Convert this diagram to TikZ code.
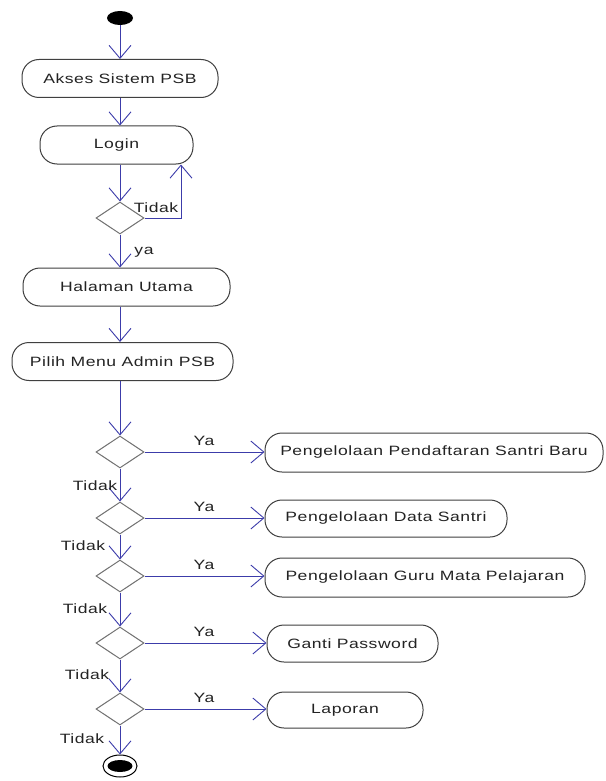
\documentclass[tikz,border=0pt]{standalone}
\usepackage{fontspec}
\setmainfont{Liberation Sans}[FakeStretch=1.3,LetterSpace=4]
\usetikzlibrary{arrows.meta,shapes.geometric,calc}
\definecolor{linecol}{RGB}{60,60,170}
\definecolor{txtcol}{RGB}{35,35,35}
\begin{document}
\begin{tikzpicture}[x=1pt,y=-1pt,
  flow/.style={draw=linecol, line width=0.9pt, -{Straight Barb[length=13pt,width=22pt,line width=0.9pt]}},
  act/.style={draw=black!75, line width=1pt, rounded corners=17pt, rectangle, minimum height=38pt, inner sep=0pt, font=\fontsize{13.5}{16}\selectfont, text=txtcol},
  dec/.style={draw=black!55, line width=1pt, diamond, minimum width=48pt, minimum height=32pt, inner sep=0pt},
  lab/.style={inner sep=0pt, font=\fontsize{13.5}{16}\selectfont, text=txtcol}]
\useasboundingbox (0,0) rectangle (605,781);
\fill[white] (0,0) rectangle (605,781);
% start / end
\node[ellipse, fill=black, minimum width=26pt, minimum height=14pt, inner sep=0pt] (start) at (120,18) {};
\node[ellipse, draw=black, line width=1pt, minimum width=34pt, minimum height=22pt, inner sep=0pt] (end) at (120,766) {};
\node[ellipse, fill=black, minimum width=25pt, minimum height=12pt, inner sep=0pt] (endin) at (120,766) {};
% main column
\node[act, minimum width=196pt] (akses) at (120,78.5) {Akses Sistem PSB};
\node[act, minimum width=153pt] (login) at (116.5,145) {Login};
\node[dec] (d0) at (120,218) {};
\node[act, minimum width=207pt] (hal) at (126.5,287) {Halaman Utama};
\node[act, minimum width=221pt] (pilih) at (122.5,361.5) {Pilih Menu Admin PSB};
% decisions
\node[dec] (d1) at (120,452) {};
\node[dec] (d2) at (120,518) {};
\node[dec] (d3) at (120,576) {};
\node[dec] (d4) at (120,643) {};
\node[dec] (d5) at (120,709) {};
% right boxes
\node[act, minimum width=338pt, minimum height=39pt] (b1) at (434,452.5) {Pengelolaan Pendaftaran Santri Baru};
\node[act, minimum width=242pt, minimum height=37pt] (b2) at (386,518.5) {Pengelolaan Data Santri};
\node[act, minimum width=320pt, minimum height=39pt] (b3) at (425,577.5) {Pengelolaan Guru Mata Pelajaran};
\node[act, minimum width=171pt, minimum height=37pt] (b4) at (352.5,643.5) {Ganti Password};
\node[act, minimum width=156pt, minimum height=36pt] (b5) at (345,710) {Laporan};
% connectors
\draw[flow] (start) -- (akses.north -| start);
\draw[flow] (akses.south -| start) -- (login.north -| start);
\draw[flow] (login.south -| start) -- (d0.north);
\draw[flow] (d0.east) -| ([xshift=64.5pt]login.south);
\draw[flow] (d0.south) -- (hal.north -| start);
\draw[flow] (hal.south -| start) -- (pilih.north -| start);
\draw[flow] (pilih.south -| start) -- (d1.north);
\draw[flow] (d1.east) -- (d1.east -| b1.west);
\draw[flow] (d2.east) -- (d2.east -| b2.west);
\draw[flow] (d3.east) -- (d3.east -| b3.west);
\draw[flow] (d4.east) -- (d4.east -| b4.west);
\draw[flow] (d5.east) -- (d5.east -| b5.west);
\draw[flow] (d1.south) -- (d2.north);
\draw[flow] (d2.south) -- (d3.north);
\draw[flow] (d3.south) -- (d4.north);
\draw[flow] (d4.south) -- (d5.north);
\draw[flow] (d5.south) -- (end.north);
% labels
\node[lab] (lt0) at (156,208) {Tidak};
\node[lab] (lya) at (144,252) {ya};
\node[lab] (ly1) at (204,441) {Ya};
\node[lab] (ly2) at (204,507) {Ya};
\node[lab] (ly3) at (204,565) {Ya};
\node[lab] (ly4) at (204,632) {Ya};
\node[lab] (ly5) at (204,698) {Ya};
\node[lab] (lt1) at (95,486) {Tidak};
\node[lab] (lt2) at (83,546) {Tidak};
\node[lab] (lt3) at (85,609) {Tidak};
\node[lab] (lt4) at (87,675) {Tidak};
\node[lab] (lt5) at (82,739) {Tidak};
\end{tikzpicture}
\end{document}
